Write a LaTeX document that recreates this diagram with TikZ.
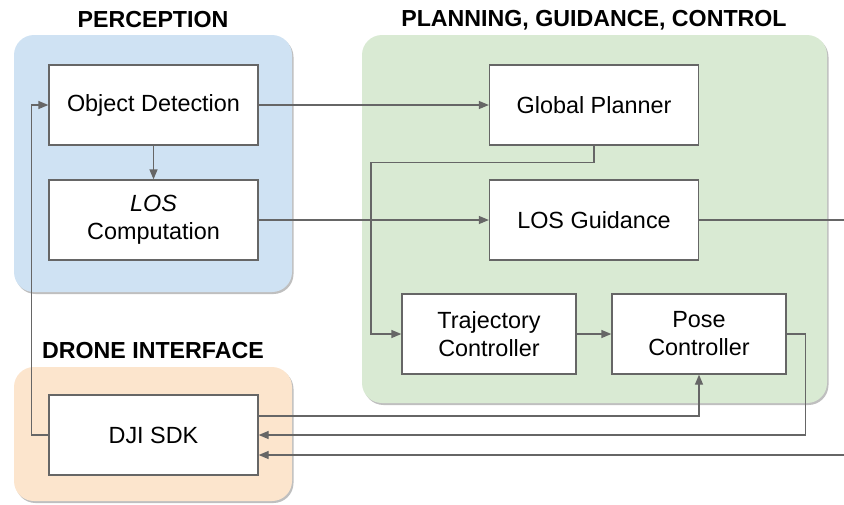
\documentclass[tikz,border=0pt]{standalone}
\usepackage{fontspec}
\setmainfont{Liberation Sans}
\usetikzlibrary{arrows.meta,shadows}

\definecolor{percblue}{HTML}{CFE2F3}
\definecolor{plangreen}{HTML}{D9EAD3}
\definecolor{droneorange}{HTML}{FCE5CD}
\definecolor{linegray}{HTML}{666666}

\tikzset{
  panel/.style={rounded corners=20pt, draw=none,
    drop shadow={shadow xshift=1.5pt, shadow yshift=-2pt, opacity=0.25, fill=black}},
  block/.style={draw=linegray, line width=1.3pt, fill=white, align=center,
    minimum width=209pt, minimum height=80pt, inner sep=0pt,
    font=\fontsize{23.4}{28}\selectfont},
  smallblock/.style={block, minimum width=174pt},
  grouptitle/.style={font=\fontsize{23.2}{28}\selectfont\bfseries},
  arr/.style={draw=linegray, line width=1.3pt, -{Triangle[length=10pt,width=8pt]}},
  wire/.style={draw=linegray, line width=1.3pt}
}

\begin{document}
\begin{tikzpicture}[x=1pt,y=-1pt]
\useasboundingbox (0,0) rectangle (844,504);

% groups
\fill[panel, fill=percblue] (14,35) rectangle (292,292);
\fill[panel, fill=plangreen] (362,35) rectangle (827,403);
\fill[panel, fill=droneorange] (14,367) rectangle (292,501);

\node[grouptitle] (perctitle) at (153,20) {PERCEPTION};
\node[grouptitle] (plantitle) at (594,20) {PLANNING, GUIDANCE, CONTROL};
\node[grouptitle] (dronetitle) at (153,351) {DRONE INTERFACE};

% blocks
\node[block] (objdet) at (153.5,105) {Object Detection};
\node[block] (loscomp) at (153.5,220) {\textit{LOS}\\Computation};
\node[block] (planner) at (594,105) {Global Planner};
\node[block] (guidance) at (594,220) {LOS Guidance};
\node[smallblock] (trajctrl) at (489,334) {Trajectory\\Controller};
\node[smallblock] (posectrl) at (699,334) {Pose\\Controller};
\node[block] (djisdk) at (153.5,435) {DJI SDK};

% loose ends at the right border
\coordinate (guideout) at (844,220);
\coordinate (sdkin) at (844,455);

% connections
\draw[arr] (objdet) -- (loscomp);
\draw[arr] (objdet) -- (planner);
\draw[arr] (loscomp) -- (guidance);
\draw[arr] (planner.south) -- ++(0,17) -| (371,334) -- (trajctrl.west);
\draw[arr] (trajctrl) -- (posectrl);
\draw[wire] (guidance.east) -- (guideout);
\draw[arr] ([yshift=19pt]djisdk.east) -| (posectrl.south);
\draw[arr] (posectrl.east) -- ++(19,0) |- (djisdk.east);
\draw[arr] (sdkin) -- ([yshift=-20pt]djisdk.east);
\draw[arr] (djisdk.west) -- ++(-17,0) |- (objdet.west);
\end{tikzpicture}
\end{document}
